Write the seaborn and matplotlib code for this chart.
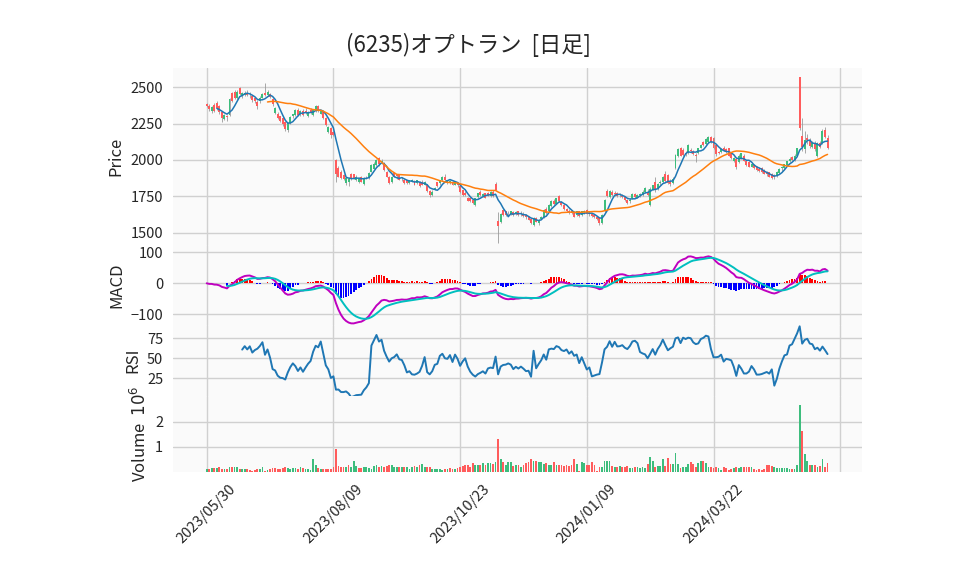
import numpy as np
import pandas as pd
import seaborn as sns
import matplotlib
matplotlib.use("Agg")
import matplotlib.pyplot as plt

# タイトルと日付ラベル
TITLE = "(6235)オプトラン  [日足]"
DATE_POS = [0, 50, 100, 150, 200, 250]
DATE_LABELS = ["2023/05/30", "2023/08/09", "2023/10/23", "2024/01/09", "2024/03/22", ""]

# 四本値
OPEN = [2385, 2375, 2335, 2380, 2395, 2370, 2330, 2285, 2300, 2310,
        2460, 2472, 2430, 2495, 2440, 2450, 2465, 2445, 2440, 2425,
        2400, 2405, 2430, 2460, 2450, 2455, 2420, 2325, 2320, 2300,
        2290, 2265, 2205, 2255, 2300, 2310, 2345, 2315, 2340, 2335,
        2305, 2345, 2310, 2335, 2370, 2320, 2335, 2290, 2195, 2220,
        2195, 2000, 1945, 1920, 1895, 1840, 1850, 1900, 1900, 1865,
        1850, 1880, 1835, 1880, 1875, 1920, 1940, 1965, 2012, 1978,
        1978, 1920, 1885, 1845, 1910, 1895, 1895, 1870, 1862, 1860,
        1840, 1850, 1852, 1840, 1850, 1850, 1830, 1828, 1785, 1760,
        1800, 1845, 1840, 1862, 1885, 1840, 1840, 1850, 1830, 1840,
        1818, 1790, 1770, 1740, 1735, 1725, 1692, 1745, 1782, 1750,
        1770, 1770, 1750, 1780, 1835, 1580, 1575, 1655, 1645, 1630,
        1625, 1642, 1628, 1645, 1635, 1630, 1618, 1610, 1590, 1555,
        1600, 1565, 1595, 1605, 1665, 1645, 1680, 1720, 1700, 1750,
        1710, 1690, 1660, 1650, 1645, 1640, 1620, 1645, 1620, 1640,
        1655, 1635, 1625, 1620, 1605, 1598, 1565, 1645, 1785, 1745,
        1780, 1770, 1775, 1760, 1755, 1745, 1725, 1715, 1735, 1765,
        1740, 1760, 1760, 1782, 1780, 1690, 1795, 1850, 1800, 1840,
        1845, 1905, 1895, 1850, 1840, 1945, 2030, 2080, 2070, 2050,
        2045, 2070, 2060, 2035, 2045, 2085, 2125, 2110, 2125, 2155,
        2150, 2100, 2055, 2055, 2085, 2075, 2080, 2045, 1990, 2010,
        1985, 2010, 2030, 1995, 1985, 1955, 1965, 1955, 1940, 1945,
        1930, 1915, 1915, 1905, 1890, 1890, 1910, 1945, 1945, 1965,
        1990, 2020, 2000, 2030, 2570, 2165, 2075, 2150, 2140, 2090,
        2120, 2030, 2120, 2115, 2210, 2150]
HIGH = [2395, 2385, 2370, 2395, 2405, 2380, 2340, 2320, 2310, 2430,
        2470, 2480, 2480, 2505, 2470, 2475, 2480, 2470, 2450, 2435,
        2410, 2440, 2465, 2530, 2480, 2465, 2430, 2365, 2330, 2305,
        2295, 2270, 2260, 2305, 2320, 2350, 2355, 2345, 2350, 2360,
        2340, 2355, 2350, 2380, 2380, 2345, 2340, 2295, 2235, 2225,
        2200, 2010, 1960, 1930, 1905, 1880, 1880, 1910, 1905, 1895,
        1880, 1890, 1880, 1890, 1915, 1970, 1985, 2005, 2020, 2005,
        1985, 1925, 1890, 1890, 1915, 1905, 1900, 1880, 1870, 1865,
        1865, 1870, 1860, 1865, 1855, 1860, 1855, 1835, 1790, 1790,
        1815, 1850, 1865, 1890, 1905, 1865, 1862, 1855, 1855, 1850,
        1825, 1795, 1785, 1745, 1740, 1730, 1740, 1775, 1790, 1772,
        1775, 1780, 1785, 1790, 1845, 1640, 1635, 1665, 1650, 1645,
        1650, 1650, 1645, 1650, 1645, 1640, 1630, 1615, 1595, 1605,
        1605, 1595, 1615, 1660, 1675, 1695, 1725, 1730, 1740, 1760,
        1720, 1700, 1670, 1660, 1655, 1645, 1650, 1650, 1650, 1655,
        1665, 1645, 1635, 1625, 1610, 1600, 1625, 1730, 1800, 1790,
        1790, 1785, 1780, 1770, 1765, 1750, 1730, 1735, 1770, 1775,
        1765, 1775, 1790, 1815, 1800, 1815, 1830, 1885, 1840, 1860,
        1890, 1925, 1900, 1870, 1880, 2040, 2085, 2090, 2080, 2065,
        2110, 2085, 2070, 2050, 2085, 2110, 2130, 2150, 2165, 2165,
        2155, 2110, 2065, 2085, 2095, 2085, 2085, 2050, 2020, 2015,
        2040, 2050, 2040, 2000, 1990, 1975, 1970, 1960, 1950, 1950,
        1935, 1925, 1920, 1910, 1900, 1925, 1945, 1960, 1975, 1995,
        2020, 2030, 2040, 2085, 2575, 2290, 2200, 2180, 2150, 2130,
        2130, 2125, 2130, 2215, 2230, 2170]
LOW = [2365, 2340, 2325, 2330, 2345, 2320, 2265, 2275, 2270, 2305,
       2400, 2420, 2420, 2445, 2425, 2440, 2440, 2430, 2400, 2395,
       2350, 2395, 2425, 2440, 2440, 2425, 2375, 2315, 2285, 2260,
       2235, 2200, 2190, 2250, 2290, 2300, 2305, 2305, 2305, 2320,
       2295, 2320, 2305, 2330, 2330, 2315, 2285, 2235, 2185, 2150,
       2165, 1850, 1880, 1870, 1860, 1830, 1820, 1860, 1870, 1855,
       1840, 1845, 1830, 1870, 1870, 1915, 1935, 1960, 1960, 1970,
       1925, 1880, 1835, 1840, 1880, 1870, 1860, 1855, 1835, 1835,
       1835, 1845, 1825, 1835, 1815, 1825, 1825, 1780, 1745, 1755,
       1795, 1815, 1830, 1855, 1855, 1835, 1835, 1825, 1825, 1815,
       1775, 1755, 1750, 1715, 1710, 1695, 1685, 1740, 1755, 1745,
       1735, 1750, 1745, 1745, 1790, 1425, 1565, 1615, 1615, 1615,
       1620, 1615, 1620, 1615, 1615, 1605, 1595, 1585, 1560, 1545,
       1570, 1550, 1590, 1600, 1625, 1640, 1675, 1690, 1695, 1710,
       1680, 1655, 1640, 1630, 1630, 1605, 1615, 1605, 1615, 1630,
       1625, 1615, 1610, 1600, 1585, 1555, 1560, 1640, 1745, 1740,
       1755, 1750, 1745, 1745, 1735, 1720, 1695, 1705, 1730, 1740,
       1735, 1745, 1755, 1775, 1755, 1680, 1790, 1780, 1795, 1830,
       1840, 1845, 1835, 1820, 1835, 1940, 2020, 2025, 2030, 2030,
       2040, 2045, 2035, 1985, 2040, 2080, 2095, 2105, 2120, 2120,
       2075, 2030, 2040, 2050, 2060, 2050, 2025, 2005, 1985, 1940,
       1980, 2005, 1990, 1960, 1950, 1950, 1940, 1925, 1915, 1910,
       1900, 1890, 1880, 1870, 1870, 1885, 1905, 1925, 1940, 1960,
       1985, 1995, 1995, 2025, 2210, 2060, 2050, 2110, 2085, 2080,
       2065, 2020, 2085, 2110, 2150, 2075]
CLOSE = [2372, 2348, 2365, 2340, 2355, 2330, 2290, 2310, 2295, 2420,
         2405, 2430, 2470, 2455, 2460, 2465, 2450, 2448, 2410, 2405,
         2375, 2430, 2455, 2445, 2470, 2435, 2385, 2355, 2292, 2268,
         2245, 2212, 2252, 2298, 2315, 2342, 2312, 2338, 2312, 2330,
         2330, 2330, 2345, 2370, 2337, 2340, 2290, 2242, 2228, 2175,
         2170, 1900, 1885, 1875, 1870, 1875, 1870, 1870, 1875, 1885,
         1872, 1850, 1875, 1885, 1910, 1965, 1975, 2000, 1970, 1995,
         1930, 1885, 1842, 1885, 1885, 1890, 1865, 1868, 1840, 1842,
         1860, 1865, 1830, 1862, 1820, 1830, 1850, 1785, 1758, 1782,
         1810, 1820, 1862, 1885, 1860, 1860, 1858, 1830, 1850, 1825,
         1782, 1760, 1758, 1718, 1715, 1702, 1735, 1770, 1760, 1768,
         1740, 1755, 1780, 1750, 1795, 1545, 1630, 1620, 1622, 1628,
         1645, 1620, 1640, 1620, 1625, 1612, 1610, 1588, 1565, 1598,
         1575, 1588, 1610, 1655, 1635, 1690, 1718, 1695, 1735, 1715,
         1690, 1660, 1650, 1640, 1635, 1610, 1645, 1612, 1645, 1650,
         1630, 1628, 1615, 1605, 1590, 1565, 1620, 1725, 1750, 1785,
         1760, 1765, 1750, 1758, 1745, 1725, 1702, 1725, 1765, 1745,
         1760, 1768, 1782, 1810, 1760, 1800, 1825, 1790, 1835, 1850,
         1885, 1855, 1840, 1835, 1870, 2035, 2075, 2030, 2035, 2040,
         2100, 2060, 2040, 2030, 2080, 2105, 2100, 2145, 2155, 2125,
         2085, 2040, 2050, 2078, 2070, 2055, 2030, 2012, 2015, 1955,
         2030, 2045, 1995, 1965, 1955, 1970, 1945, 1930, 1922, 1915,
         1905, 1900, 1885, 1875, 1880, 1920, 1940, 1950, 1970, 1990,
         2010, 2000, 2030, 2080, 2220, 2090, 2140, 2140, 2095, 2120,
         2075, 2115, 2090, 2200, 2160, 2085]
# 出来高 (千株)
VOLUME_K = [107, 133, 160, 160, 160, 187, 107, 107, 107, 187,
            187, 213, 187, 107, 133, 133, 107, 80, 53, 80,
            107, 107, 187, 53, 80, 133, 160, 160, 107, 133,
            160, 213, 160, 133, 160, 160, 133, 187, 160, 133,
            133, 80, 533, 267, 160, 107, 107, 107, 107, 133,
            213, 933, 240, 187, 187, 187, 293, 187, 427, 240,
            160, 160, 187, 187, 160, 107, 240, 267, 187, 240,
            187, 240, 267, 267, 213, 187, 213, 187, 187, 213,
            107, 213, 240, 187, 267, 320, 187, 187, 187, 107,
            133, 133, 107, 80, 107, 133, 160, 107, 133, 160,
            213, 240, 267, 267, 213, 373, 293, 293, 267, 373,
            293, 373, 373, 320, 400, 1333, 533, 400, 267, 400,
            400, 240, 267, 267, 187, 267, 347, 400, 507, 453,
            427, 400, 400, 320, 347, 293, 293, 400, 267, 267,
            293, 240, 293, 240, 267, 507, 320, 53, 400, 347,
            267, 267, 400, 267, 53, 187, 187, 453, 453, 427,
            240, 213, 213, 240, 213, 213, 240, 160, 160, 187,
            187, 160, 213, 160, 320, 613, 427, 213, 240, 240,
            507, 240, 560, 320, 320, 773, 320, 160, 187, 187,
            320, 400, 320, 187, 373, 427, 427, 373, 187, 187,
            160, 187, 160, 80, 187, 160, 80, 133, 160, 213,
            160, 187, 187, 187, 187, 187, 107, 80, 133, 80,
            133, 267, 267, 240, 213, 160, 160, 160, 160, 160,
            107, 107, 107, 293, 2667, 1627, 733, 427, 293, 293,
            293, 213, 240, 507, 213, 347]

UP = "#3dbd7d"
DOWN = "#ff5c5c"
WICK = "#9a9a9a"

df = pd.DataFrame({"Open": OPEN, "High": HIGH, "Low": LOW,
                   "Close": CLOSE, "Volume": np.array(VOLUME_K) / 1000.0})
df["x"] = np.arange(len(df))
df["MA5"] = df["Close"].rolling(5).mean()
df["MA25"] = df["Close"].rolling(25).mean()
ema12 = df["Close"].ewm(span=12, adjust=False).mean()
ema26 = df["Close"].ewm(span=26, adjust=False).mean()
df["MACD"] = ema12 - ema26
sig = df["MACD"].ewm(span=9, adjust=False).mean()
sig.iloc[:8] = np.nan
df["Signal"] = sig
df["Hist"] = df["MACD"] - df["Signal"]
delta = df["Close"].diff()
gain = delta.clip(lower=0).rolling(14).mean()
loss = (-delta.clip(upper=0)).rolling(14).mean()
df["RSI"] = 100 - 100 / (1 + gain / loss)

sns.set_theme(style="whitegrid", rc={"axes.facecolor": "#fafafa",
                                     "grid.color": "#d0d0d0",
                                     "grid.linewidth": 1.0,
                                     "axes.edgecolor": "#e4e4e4",
                                     "axes.linewidth": 0.8})
plt.rcParams["font.family"] = ["Noto Sans CJK JP", "DejaVu Sans"]

W, H = 958, 575
fig = plt.figure(figsize=(W / 100, H / 100), dpi=100)


def panel(top, bottom):
    return fig.add_axes([173 / W, 1 - bottom / H, (862 - 173) / W, (bottom - top) / H])


ax1 = panel(68, 245)
ax2 = panel(245, 325)
ax3 = panel(325, 396)
ax4 = panel(396, 472)
axes = [ax1, ax2, ax3, ax4]

# ローソク足
up = df["Close"] >= df["Open"]
ax1.vlines(df["x"], df["Low"], df["High"], color=WICK, lw=0.6, zorder=2)
ax1.bar(df["x"], (df["Close"] - df["Open"]).abs(), bottom=df[["Open", "Close"]].min(axis=1),
        width=0.78, color=np.where(up, UP, DOWN), linewidth=0, zorder=3)
sns.lineplot(data=df, x="x", y="MA5", ax=ax1, color="#1f77b4", lw=1.1, zorder=4)
sns.lineplot(data=df, x="x", y="MA25", ax=ax1, color="#ff7f0e", lw=1.1, zorder=4)
ax1.set_ylim(1414, 2634)
ax1.set_yticks([1500, 1750, 2000, 2250, 2500])
ax1.set_ylabel("Price")

# MACD
hist = df["Hist"].fillna(0)
ax2.bar(df["x"], hist, width=0.7, color=np.where(hist >= 0, "#ff0000", "#0000ff"),
        linewidth=0, zorder=2)
sns.lineplot(data=df, x="x", y="MACD", ax=ax2, color="#bf00bf", lw=1.4, zorder=3)
sns.lineplot(data=df, x="x", y="Signal", ax=ax2, color="#00bfbf", lw=1.4, zorder=3)
ax2.set_ylim(-134, 123)
ax2.set_yticks([-100, 0, 100])
ax2.set_ylabel("MACD")

# RSI
sns.lineplot(data=df, x="x", y="RSI", ax=ax3, color="#1f77b4", lw=1.4)
ax3.set_ylim(3, 91.5)
ax3.set_yticks([25, 50, 75])
ax3.set_ylabel("RSI")

# 出来高 (前日終値比で色分け)
vup = df["Close"].diff().fillna(0) >= 0
ax4.bar(df["x"], df["Volume"], width=0.7, color=np.where(vup, UP, DOWN), linewidth=0)
ax4.set_ylim(0, 3.03)
ax4.set_yticks([1, 2])
ax4.set_ylabel("Volume  $10^{6}$")

for ax in axes:
    ax.set_xlim(-13.3, 258.6)
    ax.set_xticks(DATE_POS)
    ax.set_xlabel("")
    ax.tick_params(axis="y", length=0, pad=7, labelsize=10.5)
    ax.grid(True, axis="both")
    ax.set_axisbelow(True)
    for s in ax.spines.values():
        s.set_visible(False)
for ax in axes[:-1]:
    ax.tick_params(axis="x", length=0, labelbottom=False)
ax4.set_xticklabels(DATE_LABELS, rotation=45, ha="center", fontsize=10.5)
ax4.tick_params(axis="x", length=4, width=1, color="black", pad=3)

fig.text(469 / W, 1 - 45 / H, TITLE, ha="center", va="center", fontsize=16)

fig.savefig("out.png", dpi=100)
